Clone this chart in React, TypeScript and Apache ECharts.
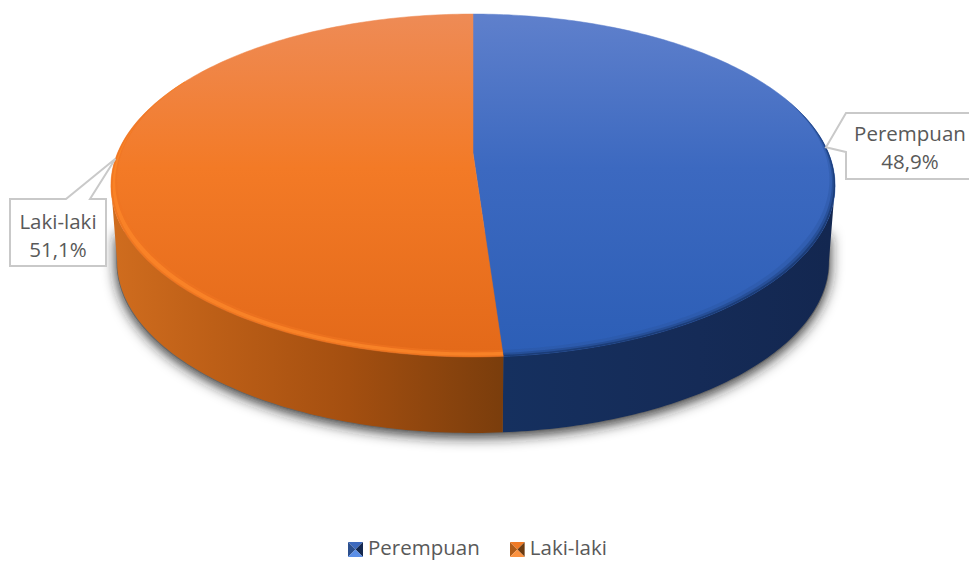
import React, { useEffect, useRef } from "react";
import * as echarts from "echarts";

const categories = ["Perempuan", "Laki-laki"];
const shareValues = [48.9, 51.1];

const FONT = '"Open Sans", sans-serif';
const CX = 473, APEX_Y = 153, C = 355.5, B = 136.3, K = 0.1895;
const DEPTH = 76, BASE_SCALE = 0.983;
const TAU = Math.PI * 2;

type Pt = [number, number];
const top3d = (theta: number, r = 1): Pt => {
  const u = r * Math.sin(theta), v = r * Math.cos(theta), d = 1 + K * v;
  return [CX + (C * u) / d, (APEX_Y - B * v) / d];
};
const base3d = (theta: number): Pt => {
  const [x, y] = top3d(theta);
  return [CX + (x - CX) * BASE_SCALE, y + DEPTH];
};
const arc = (f: (t: number) => Pt, a: number, b: number, n = 90): Pt[] => {
  const out: Pt[] = [];
  for (let i = 0; i <= n; i++) out.push(f(a + ((b - a) * i) / n));
  return out;
};
const SIDE = Math.acos(-K);

const total = shareValues.reduce((s, v) => s + v, 0);
const angleRange = (i: number): [number, number] => {
  const before = shareValues.slice(0, i).reduce((s, v) => s + v, 0);
  return [(before / total) * TAU, ((before + shareValues[i]) / total) * TAU];
};

const grad = (x0: number, y0: number, x1: number, y1: number, stops: [number, string][]) =>
  new echarts.graphic.LinearGradient(x0, y0, x1, y1, stops.map(([offset, color]) => ({ offset, color })), true);

const looks = [
  {
    top: grad(0, 14, 0, 357, [[0, "#5f80cc"], [0.45, "#3c69c0"], [1, "#2c5eb6"]]),
    wall: grad(503, 0, 830, 0, [[0, "#15305f"], [0.6, "#152b57"], [1, "#132750"]]),
    bands: [
      { color: "#2a55a0", depth: 0.026, opacity: 0.4 },
      { color: "#234a8e", depth: 0.014, opacity: 0.7 },
      { color: "#1a3a72", depth: 0.006, opacity: 0.85 },
    ],
    bevelFrom: 1.2,
    bevelTo: null as number | null,
    box: [[846, 113], [970, 113], [970, 179], [846, 179], [846, 167]] as Pt[],
    boxEnd: [846, 152] as Pt,
    text: [910, 134] as Pt,
    value: [910, 162] as Pt,
    legend: ["#3d69bd", "#2b4f8e", "#14284f", "#5b8fe8"],
  },
  {
    top: grad(0, 14, 0, 357, [[0, "#ee8b56"], [0.45, "#f37a26"], [1, "#e36919"]]),
    wall: grad(116, 0, 503, 0, [[0, "#cf6c1e"], [0.25, "#bd5f17"], [0.6, "#a44f10"], [1, "#7a3d0c"]]),
    bands: [
      { color: "#f07522", depth: 0.026, opacity: 0.6 },
      { color: "#f98428", depth: 0.018, opacity: 0.9 },
      { color: "#ef7a22", depth: 0.005, opacity: 0.7 },
    ],
    bevelFrom: 3.0,
    bevelTo: 5.2,
    box: [[66, 199], [10, 199], [10, 266], [106, 266], [106, 199], [90, 199]] as Pt[],
    boxEnd: [90, 199] as Pt,
    text: [58, 222] as Pt,
    value: [58, 250] as Pt,
    legend: ["#f07a25", "#b05c18", "#6b3a10", "#fb9240"],
  },
];

const pyramid = (c: string[]) =>
  "image://data:image/svg+xml;charset=utf-8," +
  encodeURIComponent(
    `<svg xmlns="http://www.w3.org/2000/svg" width="15" height="21" viewBox="0 -6 15 21">` +
      `<polygon points="0,0 15,0 7.5,7.5" fill="${c[0]}"/>` +
      `<polygon points="0,0 7.5,7.5 0,15" fill="${c[1]}"/>` +
      `<polygon points="15,0 15,15 7.5,7.5" fill="${c[2]}"/>` +
      `<polygon points="0,15 15,15 7.5,7.5" fill="${c[3]}"/></svg>`
  );

const percentLabel = (v: number) => `${v.toFixed(1).replace(".", ",")}%`;

const renderSlice = (i: number) => () => {
  const [a, b] = angleRange(i);
  const look = looks[i];
  const children: any[] = [];

  if (i === 0) {
    const lower = arc(base3d, SIDE, TAU - SIDE).map(([x, y]): Pt => [CX + (x - CX) * 1.002, y + 1]);
    children.push({
      type: "polygon",
      silent: true,
      shape: { points: [[lower[0][0], 232], ...lower, [lower[lower.length - 1][0], 232]] },
      style: { fill: "#666666", shadowBlur: 14, shadowColor: "rgba(30,30,30,0.95)", shadowOffsetY: 3 },
    });
  }

  // side wall: only the front part of the rim is visible
  const wa = Math.max(a, SIDE), wb = Math.min(b, TAU - SIDE);
  children.push({
    type: "polygon",
    shape: { points: [...arc(top3d, wa, wb), ...arc(base3d, wb, wa)] },
    style: { fill: look.wall },
  });

  // top face
  children.push({
    type: "polygon",
    shape: { points: [top3d(0, 0), ...arc(top3d, a, b, 180)] },
    style: { fill: look.top, stroke: look.top, lineWidth: 0.5 },
  });

  // rim bevel along the front edge
  const from = Math.max(a, look.bevelFrom), to = look.bevelTo === null ? b : Math.min(b, look.bevelTo);
  look.bands.forEach((band) => {
    const inner = (t: number) => {
      const span = i === 0 ? (t - from) / (to - from) : (to - t) / (to - from);
      return top3d(t, 1 - band.depth * Math.min(1, span * 2));
    };
    const outer = (t: number) => {
      const gap = band.depth < 0.02 && i === 1 ? band.depth * 0.25 : 0;
      return top3d(t, 1 - gap);
    };
    children.push({
      type: "polygon",
      shape: { points: [...arc(outer, from, to), ...arc(inner, to, from)] },
      style: { fill: band.color, opacity: band.opacity },
    });
  });

  // callout
  const tip = top3d((a + b) / 2);
  children.push({
    type: "polygon",
    shape: { points: [look.boxEnd, tip, ...look.box] },
    style: { fill: "#ffffff", stroke: "#c9c9c9", lineWidth: 2 },
  });
  const common = { fill: "#595959", fontSize: 20.5, fontFamily: FONT, textAlign: "center", textVerticalAlign: "middle" };
  children.push({ type: "text", style: { ...common, text: categories[i], x: look.text[0], y: look.text[1] - 1 } });
  children.push({
    type: "text",
    style: { ...common, text: percentLabel(shareValues[i]), x: look.value[0], y: look.value[1] - 1 },
  });
  return { type: "group", children };
};

export default function App() {
  const ref = useRef<HTMLDivElement>(null);
  useEffect(() => {
    document.body.style.margin = "0";
    const chart = echarts.init(ref.current!, null, { renderer: "svg" });
    chart.setOption({
      animation: false,
      backgroundColor: "#ffffff",
      legend: {
        data: categories.map((name, i) => ({ name, icon: pyramid(looks[i].legend) })),
        left: 348,
        top: 536,
        itemWidth: 15,
        itemHeight: 21,
        itemGap: 30,
        padding: 0,
        selectedMode: false,
        textStyle: { color: "#595959", fontSize: 20.5, lineHeight: 20, fontFamily: FONT },
      },
      series: categories.map((name, i) => ({
        type: "custom",
        name,
        coordinateSystem: "none",
        silent: true,
        clip: false,
        itemStyle: { color: i === 0 ? "#3c69c0" : "#f37a26" },
        data: [shareValues[i]],
        renderItem: renderSlice(i),
      })),
    });
    return () => chart.dispose();
  }, []);
  return <div ref={ref} style={{ width: 969, height: 561, overflow: "hidden" }} />;
}
